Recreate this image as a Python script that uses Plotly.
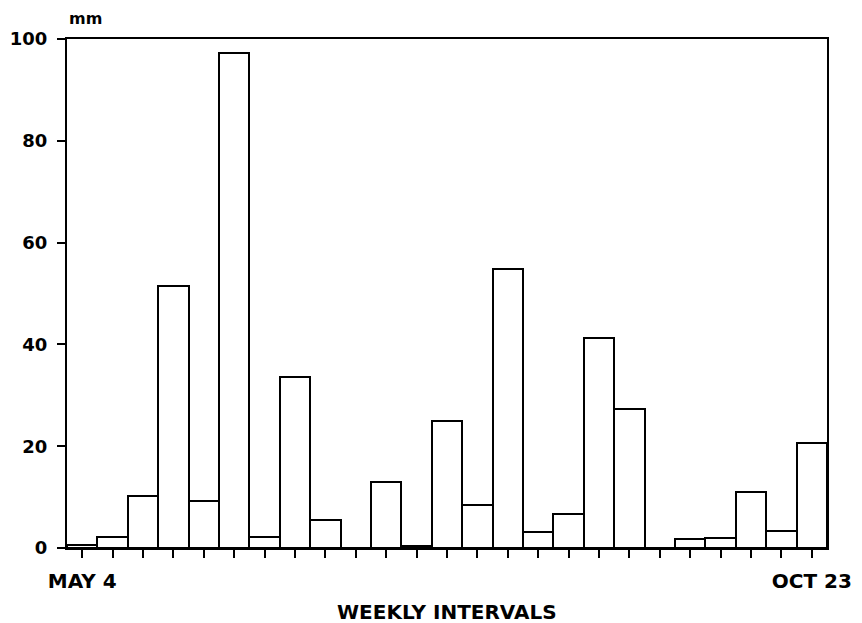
import plotly.graph_objs as go

# weekly rainfall, May 4 .. Oct 23
weeks = list(range(1, 26))
rain_mm = [0.5, 2.1, 10.2, 51.5, 9.3, 97.2, 2.1, 33.5, 5.6, 0.0,
           12.9, 0.3, 25.0, 8.4, 54.8, 3.2, 6.7, 41.3, 27.4, 0.0,
           1.7, 2.0, 11.1, 3.3, 20.6]
week_labels = ["MAY 4"] + [""] * 23 + ["OCT 23"]
y_ticks = [0, 20, 40, 60, 80, 100]

FONT = "DejaVu Sans"

fig = go.Figure()
fig.add_trace(
    go.Bar(
        x=weeks,
        y=rain_mm,
        marker=dict(color="white", line=dict(color="black", width=2)),
        width=1,
        showlegend=False,
    )
)

# page body has an 8px margin, so the figure is a bit smaller than the window
fig.update_layout(
    width=854,
    height=615,
    plot_bgcolor="white",
    paper_bgcolor="white",
    bargap=0,
    margin=dict(l=59, r=35, t=31, b=75, autoexpand=False),
    font=dict(family=FONT, size=18, color="black"),
    annotations=[
        dict(
            text="<b>mm</b>", xref="paper", yref="paper",
            x=0.0, y=1.0, xanchor="left", yanchor="bottom", yshift=9,
            showarrow=False, font=dict(size=16),
        ),
        dict(
            text="<b>WEEKLY INTERVALS</b>", xref="paper", yref="paper",
            x=0.5, y=0.0, xanchor="center", yanchor="top", yshift=-50,
            showarrow=False, font=dict(size=20),
        ),
    ],
)

fig.update_xaxes(
    range=[0.5, 25.5],
    tickmode="array",
    tickvals=weeks,
    ticktext=["<b>%s</b>" % t if t else "" for t in week_labels],
    tickfont=dict(size=20),
    ticks="outside", ticklen=8, tickwidth=2, tickcolor="black",
    ticklabelstandoff=6,
    showline=True, linecolor="black", linewidth=2, mirror=True,
    showgrid=False, zeroline=False,
)
fig.update_yaxes(
    range=[0, 100],
    tickmode="array",
    tickvals=y_ticks,
    ticktext=["<b>%d</b>" % v for v in y_ticks],
    ticks="outside", ticklen=8, tickwidth=2, tickcolor="black",
    ticklabelstandoff=6,
    showline=True, linecolor="black", linewidth=2, mirror=True,
    showgrid=False, zeroline=False,
)

fig.write_html("out.html")
